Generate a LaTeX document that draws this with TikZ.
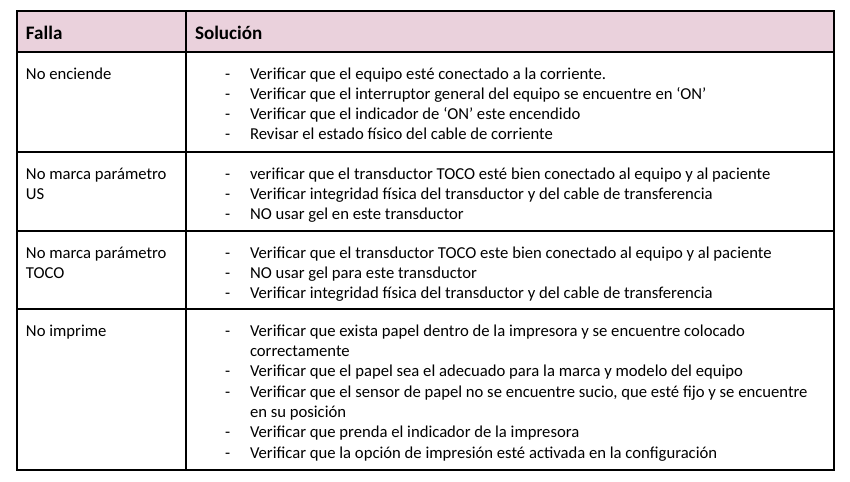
\documentclass[tikz,border=0pt]{standalone}
\usepackage{fontspec}
\setmainfont{Carlito}
\definecolor{hdrpink}{RGB}{234,209,220}
\tikzset{every picture/.style={line width=1.5pt}}
\tikzset{celltext/.style={anchor=base west,inner sep=0pt,font=\fontsize{12.5}{15.2}\selectfont}}
\tikzset{hdrtext/.style={celltext,font=\fontsize{14.3}{16}\selectfont\bfseries}}

\begin{document}
\begin{tikzpicture}[x=0.75pt,y=0.75pt,yscale=-1,xscale=1]
\useasboundingbox (0,0) rectangle (850,482);

%Shape: Rectangle [id:header]
\fill [color=hdrpink] (17,11) rectangle (834,52) ;
%Shape: Rectangle [id:frame]
\draw (17,11) -- (834,11) -- (834,470) -- (17,470) -- cycle ;
%Straight Lines [id:rows]
\draw (17,52) -- (834,52) ;
\draw (17,152) -- (834,152) ;
\draw (17,231) -- (834,231) ;
\draw (17,309) -- (834,309) ;
%Straight Lines [id:column]
\draw (186,11) -- (186,470) ;

% Text Node
\draw (25,39.3) node [hdrtext] (hfalla) {Falla};
% Text Node
\draw (194,39.3) node [hdrtext] (hsol) {Solución};

% Text Node
\draw (25,79) node [celltext] (falla1) {No enciende};
% Text Node
\draw (25,179) node [celltext] (falla2a) {No marca parámetro};
\draw (25,199) node [celltext] (falla2b) {US};
% Text Node
\draw (25,258) node [celltext] (falla3a) {No marca parámetro};
\draw (25,278) node [celltext] (falla3b) {TOCO};
% Text Node
\draw (25,336) node [celltext] (falla4) {No imprime};

% Text Node
\draw (224,79) node [celltext] (d11) {-};
\draw (249,79) node [celltext] (s11) {Verificar que el equipo esté conectado a la corriente.};
\draw (224,99) node [celltext] (d12) {-};
\draw (249,99) node [celltext] (s12) {Verificar que el interruptor general del equipo se encuentre en ‘ON’};
\draw (224,119) node [celltext] (d13) {-};
\draw (249,119) node [celltext] (s13) {Verificar que el indicador de ‘ON’ este encendido};
\draw (224,139) node [celltext] (d14) {-};
\draw (249,139) node [celltext] (s14) {Revisar el estado físico del cable de corriente};

% Text Node
\draw (224,179) node [celltext] (d21) {-};
\draw (249,179) node [celltext] (s21) {verificar que el transductor TOCO esté bien conectado al equipo y al paciente};
\draw (224,199) node [celltext] (d22) {-};
\draw (249,199) node [celltext] (s22) {Verificar integridad física del transductor y del cable de transferencia};
\draw (224,219) node [celltext] (d23) {-};
\draw (249,219) node [celltext] (s23) {NO usar gel en este transductor};

% Text Node
\draw (224,258) node [celltext] (d31) {-};
\draw (249,258) node [celltext] (s31) {Verificar que el transductor TOCO este bien conectado al equipo y al paciente};
\draw (224,278) node [celltext] (d32) {-};
\draw (249,278) node [celltext] (s32) {NO usar gel para este transductor};
\draw (224,298) node [celltext] (d33) {-};
\draw (249,298) node [celltext] (s33) {Verificar integridad física del transductor y del cable de transferencia};

% Text Node
\draw (224,336) node [celltext] (d41) {-};
\draw (249,336) node [celltext] (s41a) {Verificar que exista papel dentro de la impresora y se encuentre colocado};
\draw (249,356.3) node [celltext] (s41b) {correctamente};
\draw (224,376.7) node [celltext] (d42) {-};
\draw (249,376.7) node [celltext] (s42) {Verificar que el papel sea el adecuado para la marca y modelo del equipo};
\draw (224,397) node [celltext] (d43) {-};
\draw (249,397) node [celltext] (s43a) {Verificar que el sensor de papel no se encuentre sucio, que esté fijo y se encuentre};
\draw (249,417.3) node [celltext] (s43b) {en su posición};
\draw (224,437.7) node [celltext] (d44) {-};
\draw (249,437.7) node [celltext] (s44) {Verificar que prenda el indicador de la impresora};
\draw (224,458) node [celltext] (d45) {-};
\draw (249,458) node [celltext] (s45) {Verificar que la opción de impresión esté activada en la configuración};

\end{tikzpicture}
\end{document}
